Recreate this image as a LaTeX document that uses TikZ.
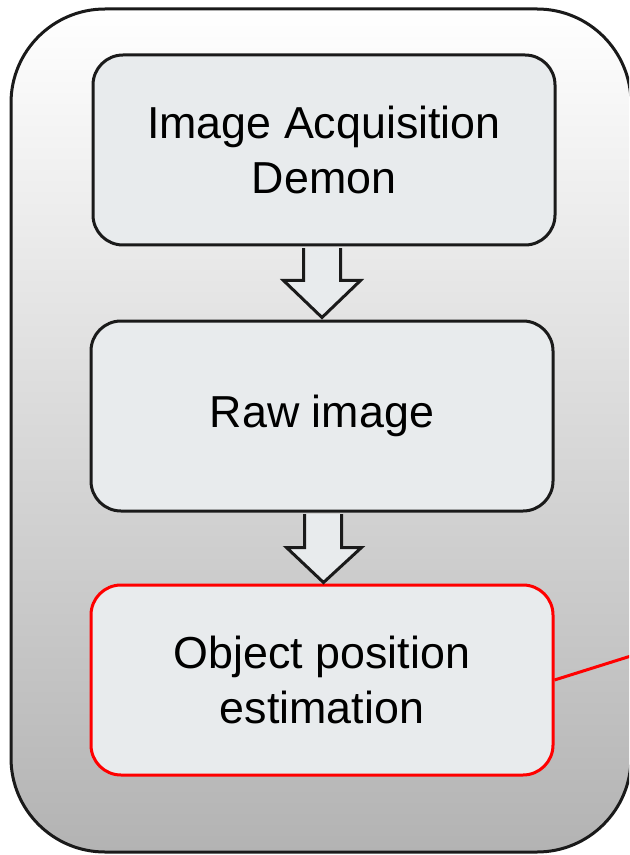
\documentclass[tikz,border=0pt]{standalone}
\usepackage{fontspec}
\setmainfont{Liberation Sans}
\usetikzlibrary{calc}
\definecolor{boxfill}{HTML}{E8EBED}
\definecolor{edge}{HTML}{1A1A1A}
\definecolor{bottomgray}{HTML}{B3B3B3}
\definecolor{redline}{HTML}{FF0000}
\begin{document}
\begin{tikzpicture}[x=0.5pt,y=-0.5pt,
  stagebox/.style={draw=edge, line width=1.5pt, fill=boxfill, rounded corners=15pt,
    minimum width=231pt, minimum height=95pt, align=center,
    font=\fontsize{22.4}{27.5}\selectfont, inner sep=0pt},
  hotbox/.style={stagebox, draw=redline},
  blockarrow/.style={draw=edge, line width=1.5pt, fill=boxfill, line join=miter},
  link/.style={draw=redline, line width=1.5pt}]
\clip (0,0) rectangle (629,855);
\fill[white] (0,0) rectangle (629,855);
% outer container
\shade[top color=white, bottom color=bottomgray, rounded corners=47pt]
  (11,9) rectangle (631,852);
\draw[edge, line width=1.5pt, rounded corners=47pt] (11,9) rectangle (631,852);
% stages
\node[stagebox] (b1) at (324,150) {Image Acquisition\\Demon};
\node[stagebox] (b2) at (322,416) {Raw image};
\node[hotbox]   (b3) at (322,680) {Object position\\estimation};
% block arrows
\path[blockarrow]
  ($(b1.south)+(-20.5,1.6)$) -- ($(b1.south)+(-20.5,34)$) -- ($(b1.south)+(-40.5,34)$)
  -- ($(b1.south)+(-2,71)$) -- ($(b1.south)+(36.5,34)$) -- ($(b1.south)+(16.5,34)$)
  -- ($(b1.south)+(16.5,1.6)$);
\path[blockarrow]
  ($(b2.south)+(-17.5,1.6)$) -- ($(b2.south)+(-17.5,35)$) -- ($(b2.south)+(-35.5,35)$)
  -- ($(b2.south)+(1.5,70)$) -- ($(b2.south)+(39.5,35)$) -- ($(b2.south)+(19.5,35)$)
  -- ($(b2.south)+(19.5,1.6)$);
% red connector leaving the picture
\coordinate (out) at (650,650);
\draw[link] (b3.east) -- (out);
\end{tikzpicture}
\end{document}
